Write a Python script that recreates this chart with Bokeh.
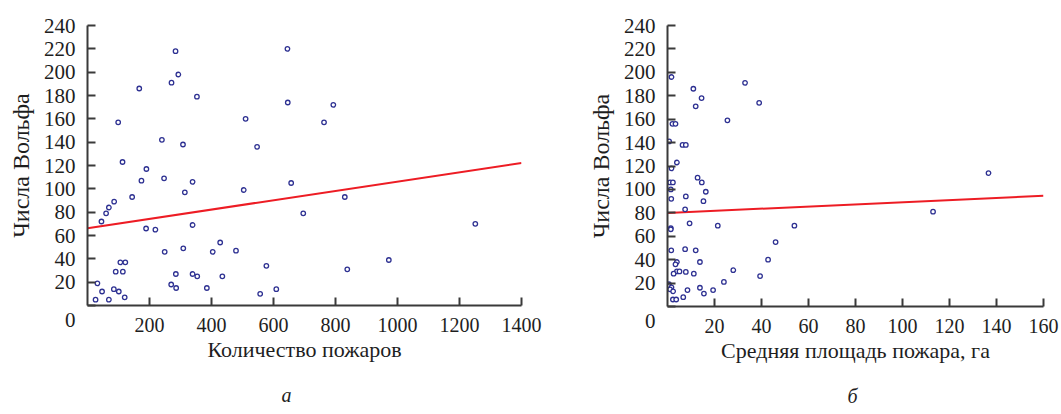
from bokeh.plotting import figure
from bokeh.layouts import row
from bokeh.models import Range1d, FixedTicker, Title
from bokeh.embed import file_html
from bokeh.resources import INLINE

# ---- data: panel a (number of fires vs Wolf numbers)
fires_count = [284, 645, 293, 271, 167, 353, 646, 99, 510, 240, 308, 547, 113, 190,
               793, 763,
               657, 830, 696, 1251, 972, 838,
               174, 247, 339, 314, 144, 504, 86, 69, 60, 45, 189, 219, 339, 249, 309,
               428, 404, 479, 106, 122, 91, 114, 32, 47, 85, 101, 26, 69, 120, 285,
               339, 354, 435, 270, 286, 385, 577, 557, 609]
wolf_a = [218, 220, 198, 191, 186, 179, 174, 157, 160, 142, 138, 136, 123, 117,
          172, 157,
          105, 93, 79, 70, 39, 31,
          107, 109, 106, 97, 93, 99, 89, 84, 79, 72, 66, 65, 69, 46, 49,
          54, 46, 47, 37, 37, 29, 29, 19, 12, 14, 12, 5, 5, 7, 27,
          27, 25, 25, 18, 15, 15, 34, 10, 14]
fit_a_x = [0, 1400]
fit_a_y = [66.3, 122.1]

# ---- data: panel b (mean fire area vs Wolf numbers)
fire_area = [1.7, 11, 33, 14.5, 12, 39, 25.5, 2.1, 3.4, 0.7, 6.4, 7.8, 4, 1.7,
             12.8, 14.6, 1.1, 2.3, 1.4, 16.3, 7.8, 1.6, 15.3, 7.5, 9.4, 21.4, 54, 1.4,
             1.4, 46, 1.6, 7.5, 12, 42.8, 4, 3.4, 13.8, 28, 4, 5.1, 7.8, 2.6, 11.2,
             39.4, 24, 0.6, 0.7, 1.7, 1.1, 2.4, 8.5, 13.8, 19.4, 15.5, 6.7, 2.3, 3.7,
             136.6, 113]
wolf_b = [196, 186, 191, 178, 171, 174, 159, 156, 156, 141, 138, 138, 123, 118,
          110, 106, 106, 106, 100, 98, 94, 92, 90, 83, 71, 69, 69, 67,
          66, 55, 48, 49, 48, 40, 38, 36, 38, 31, 30, 30, 29.5, 28, 28,
          26, 21, 19, 17.5, 16.4, 14.7, 13, 14, 16, 14, 11, 8, 6, 6,
          114, 81]
fit_b_x = [0, 160]
fit_b_y = [79.8, 94.6]

x_ticks_a = [200, 400, 600, 800, 1000, 1200, 1400]
x_ticks_b = [20, 40, 60, 80, 100, 120, 140, 160]
y_ticks = [0, 20, 40, 60, 80, 100, 120, 140, 160, 180, 200, 220, 240]
y_label = "Числа Вольфа"
x_label_a = "Количество пожаров"
x_label_b = "Средняя площадь пожара, га"

FONT = "Liberation Serif"
AXIS_COLOR = "#3a3a3a"
TEXT_COLOR = "#1e1e1e"
DOT_COLOR = "#2e3192"
LINE_COLOR = "#ed1c24"


def make_panel(xs, ys, fx, fy, xmax, xticks, xlabel, caption,
               fw, fh, bl, br, bt, cap_offset):
    p = figure(frame_width=fw, frame_height=fh, output_backend="svg",
               toolbar_location=None,
               x_range=Range1d(0, xmax), y_range=Range1d(0, 240),
               min_border_left=bl, min_border_right=br,
               min_border_top=bt, min_border_bottom=100)
    p.outline_line_color = None
    p.grid.visible = False
    p.line(fx, fy, line_color=LINE_COLOR, line_width=2)
    p.scatter(xs, ys, marker="circle", size=4.5, line_color=DOT_COLOR,
              fill_color="white", line_width=1.3)
    for ax in (p.xaxis[0], p.yaxis[0]):
        ax.axis_line_color = AXIS_COLOR
        ax.axis_line_width = 2
        ax.major_tick_line_color = AXIS_COLOR
        ax.major_tick_line_width = 2
        ax.major_tick_in = 8
        ax.major_tick_out = 0
        ax.minor_tick_line_color = None
        ax.major_label_text_font = FONT
        ax.major_label_text_color = TEXT_COLOR
        ax.axis_label_text_font = FONT
        ax.axis_label_text_font_style = "normal"
        ax.axis_label_text_color = TEXT_COLOR
    p.xaxis.major_label_text_font_size = "20px"
    p.yaxis.major_label_text_font_size = "21px"
    p.xaxis.axis_label_text_font_size = "22px"
    p.yaxis.axis_label_text_font_size = "24px"
    p.xaxis.ticker = FixedTicker(ticks=xticks)
    p.yaxis.ticker = FixedTicker(ticks=y_ticks)
    p.yaxis.major_label_overrides = {0: "\n0"}
    p.xaxis.major_label_standoff = 12
    p.yaxis.major_label_standoff = 12
    p.xaxis.axis_label = xlabel
    p.yaxis.axis_label = y_label
    p.xaxis.axis_label_standoff = 2
    p.yaxis.axis_label_standoff = 7
    cap = Title(text=caption, align="left", offset=cap_offset, standoff=35,
                text_font=FONT, text_font_size="20px", text_font_style="italic",
                text_color=TEXT_COLOR)
    p.add_layout(cap, "below")
    return p


p1 = make_panel(fires_count, wolf_a, fit_a_x, fit_a_y, 1400, x_ticks_a,
                x_label_a, "а", 434, 280, 87, 59, 24, 194)
p2 = make_panel(fire_area, wolf_b, fit_b_x, fit_b_y, 160, x_ticks_b,
                x_label_b, "б", 376, 281, 87, 17, 25, 180)

layout = row(p1, p2)
open("out.html", "w").write(file_html(layout, INLINE))
